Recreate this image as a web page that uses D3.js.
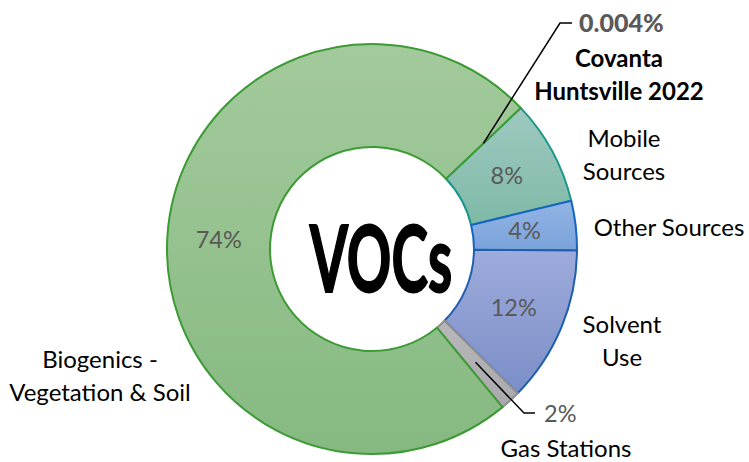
<!DOCTYPE html>
<html>
<head>
<meta charset="utf-8">
<script src="https://cdn.jsdelivr.net/npm/d3@7"></script>
<style>
  body { margin: 0; background: #fff; }
  text { font-family: Lato, "Noto Sans", sans-serif; }
</style>
</head>
<body>
<div id="container"></div>
<script>
let w = 749;
let h = 462;

// data
let sources = ["Covanta Huntsville 2022", "Mobile Sources", "Other Sources", "Solvent Use", "Gas Stations", "Biogenics - Vegetation & Soil"];
let shares = [0.004, 8.3, 3.9, 12.3, 1.6, 73.9];
let labelLines = [["Covanta", "Huntsville 2022"], ["Mobile", "Sources"], ["Other Sources"], ["Solvent", "Use"], ["Gas Stations"], ["Biogenics -", "Vegetation & Soil"]];

// look
let fillTop = ["#a2c99b", "#9ec9c0", "#93b4e4", "#9eabdb", "#b8b8bb", "#a3ca9c"];
let fillBottom = ["#88ba83", "#7fb9a7", "#7aa3db", "#7b8ec7", "#a9a9ad", "#86b981"];
let strokeCol = ["#3d9b35", "#1a978a", "#1565c0", "#1f5fb0", "#8f8f8f", "#3d9b35"];

let cx = 372, cy = 249;
let outerR = 205, innerR = 102;

let viz = d3.select("#container")
  .append("svg")
    .attr("width", w)
    .attr("height", h);

let defs = viz.append("defs");
sources.forEach(function(s, i){
  let g = defs.append("linearGradient")
    .attr("id", "grad" + i)
    .attr("x1", 0).attr("y1", 0).attr("x2", 0).attr("y2", 1);
  g.append("stop").attr("offset", "0%").attr("stop-color", fillTop[i]);
  g.append("stop").attr("offset", "100%").attr("stop-color", fillBottom[i]);
});

let pie = d3.pie()
  .sort(null)
  .value(function(d){ return d; })
  .startAngle(46.5 * Math.PI / 180)
  .endAngle(46.5 * Math.PI / 180 + 2 * Math.PI);

let arc = d3.arc().innerRadius(innerR).outerRadius(outerR);
let arcs = pie(shares);

let chart = viz.append("g").attr("transform", "translate(" + cx + "," + cy + ")");

chart.selectAll(".slice").data(arcs).enter()
  .append("path")
    .attr("class", "slice")
    .attr("d", arc)
    .attr("fill", function(d, i){ return "url(#grad" + i + ")"; })
    .attr("stroke", function(d, i){ return strokeCol[i]; })
    .attr("stroke-width", 2)
    .attr("stroke-linejoin", "round");

// percentages inside the ring
let pct = function(v){
  if (v < 0.1) return d3.format(".3f")(v) + "%";
  return d3.format(".0f")(v) + "%";
};

chart.selectAll(".pct").data(arcs).enter()
  .filter(function(d, i){ return i != 0 && i != 4; })
  .append("text")
    .attr("class", "pct")
    .attr("x", function(d){ return arc.centroid(d)[0]; })
    .attr("y", function(d){ return arc.centroid(d)[1] + 8; })
    .attr("text-anchor", "middle")
    .attr("font-size", 23.5)
    .attr("fill", "#595959")
    .text(function(d){ return pct(d.value); });

// leader lines for the two thin slices (from the slice centroid)
let leaders = [
  { i: 0, elbow: [188, -226], end: [200, -226], lx: 207, ly: -217 },
  { i: 4, elbow: [152, 164], end: [163, 164], lx: 172, ly: 173 }
];
leaders.forEach(function(l){
  let c = arc.centroid(arcs[l.i]);
  chart.append("path")
    .attr("d", d3.line()([c, l.elbow, l.end]))
    .attr("fill", "none")
    .attr("stroke", "#000")
    .attr("stroke-width", 1.5);
  chart.append("text")
    .attr("x", l.lx).attr("y", l.ly)
    .attr("font-size", l.i == 0 ? 25 : 23.5)
    .attr("font-weight", l.i == 0 ? 900 : "normal")
    .attr("fill", "#595959")
    .text(pct(arcs[l.i].value));
});

// category names (first baseline offsets from the ring centre)
let namePos = [[247, -182], [252, -102], [297, -13], [250, 84], [194, 208], [-272, 119]];
let lineGap = 33;
chart.selectAll(".name").data(arcs).enter()
  .append("text")
    .attr("class", "name")
    .attr("text-anchor", "middle")
    .attr("font-size", 24)
    .attr("font-weight", function(d, i){ return i == 0 ? "bold" : "normal"; })
    .attr("fill", "#000")
    .each(function(d, i){
      let t = d3.select(this);
      labelLines[i].forEach(function(line, k){
        t.append("tspan")
          .attr("x", namePos[i][0])
          .attr("y", namePos[i][1] + k * lineGap)
          .text(line);
      });
    });

// centre title
chart.append("text")
  .attr("transform", "translate(9,43) scale(0.92,1.53)")
  .attr("text-anchor", "middle")
  .attr("font-family", "'DejaVu Sans Condensed', 'DejaVu Sans', sans-serif")
  .attr("font-weight", "bold")
  .attr("font-size", 60)
  .attr("stroke", "#000")
  .attr("stroke-width", 1.2)
  .attr("fill", "#000")
  .text("VOCs");
</script>
</body>
</html>
